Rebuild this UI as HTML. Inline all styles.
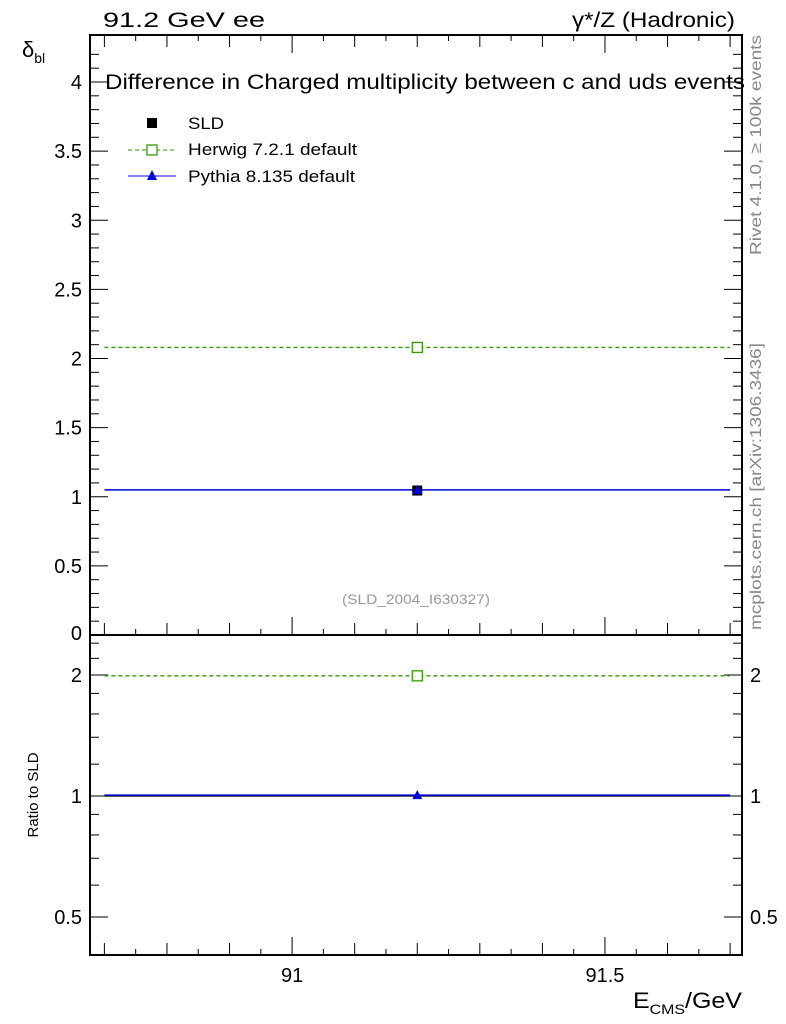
<!DOCTYPE html>
<html><head><meta charset="utf-8"><style>
body{margin:0;background:#fff;}
svg{display:block;font-family:"Liberation Sans",sans-serif;}
</style></head><body>
<svg id="c" width="786" height="1024" viewBox="0 0 786 1024">
<text x="103" y="27" font-size="21" textLength="162" lengthAdjust="spacingAndGlyphs">91.2 GeV ee</text>
<text x="572" y="27" font-size="21" textLength="163" lengthAdjust="spacingAndGlyphs">γ*/Z (Hadronic)</text>
<text x="105" y="89" font-size="21" textLength="640" lengthAdjust="spacingAndGlyphs">Difference in Charged multiplicity between c and uds events</text>
<text x="22" y="57" font-size="22">δ<tspan font-size="14" dy="6">bl</tspan></text>
<text transform="translate(38,795) rotate(-90)" font-size="15" text-anchor="middle">Ratio to SLD</text>
<text x="633" y="1008" font-size="22" textLength="109" lengthAdjust="spacingAndGlyphs">E<tspan font-size="14" dy="6">CMS</tspan><tspan dy="-6">/GeV</tspan></text>
<text transform="translate(761,255) rotate(-90)" font-size="16" fill="#888" textLength="220" lengthAdjust="spacingAndGlyphs">Rivet 4.1.0, ≥ 100k events</text>
<text transform="translate(761,630) rotate(-90)" font-size="16" fill="#888" textLength="287" lengthAdjust="spacingAndGlyphs">mcplots.cern.ch [arXiv:1306.3436]</text>
<text x="342" y="604" font-size="14" fill="#999" textLength="148" lengthAdjust="spacingAndGlyphs">(SLD_2004_I630327)</text>
<g>
<rect x="147" y="118" width="10" height="10" fill="#000"/>
<text x="188" y="129" font-size="17" textLength="36" lengthAdjust="spacingAndGlyphs">SLD</text>
<line x1="128" y1="150" x2="176" y2="150" stroke="#339900" stroke-dasharray="4,3"/>
<rect x="147" y="145" width="10" height="10" fill="#fff" stroke="#339900" stroke-width="1.3"/>
<text x="188" y="155" font-size="17" textLength="169" lengthAdjust="spacingAndGlyphs">Herwig 7.2.1 default</text>
<line x1="128" y1="176" x2="176" y2="176" stroke="#0000dd"/>
<polygon points="152,170 157,180 147,180" fill="#0000dd"/>
<text x="188" y="182" font-size="17" textLength="167" lengthAdjust="spacingAndGlyphs">Pythia 8.135 default</text>
</g>
<g id="plot"></g>
</svg>
<script>
const categories=[91.2];
const binLow=[90.7];
const binHigh=[91.7];
const sldValues=[1.045];
const herwigValues=[2.08];
const pythiaValues=[1.05];
const mainTicks=[0.5,1,1.5,2,2.5,3,3.5,4];
const mainTickLabels=["0.5","1","1.5","2","2.5","3","3.5","4"];
const ratioTicks=[0.5,1,2];
const ratioTickLabels=["0.5","1","2"];
const xTicks=[91,91.5];
const xTickLabels=["91","91.5"];

const L=90,R=742,T=35,MB=635,RB=955;
const xmin=90.677,xmax=91.719;
const X=v=>L+(v-xmin)/(xmax-xmin)*(R-L);
const Y=v=>MB-v*138.25;
const RY=v=>796-Math.log2(v)*121;
const NS='http://www.w3.org/2000/svg';
const g=document.getElementById('plot');
function mk(t,a){const e=document.createElementNS(NS,t);for(const k in a)e.setAttribute(k,a[k]);g.appendChild(e);return e;}

let f=mk('rect',{x:L,y:T,width:R-L,height:MB-T,fill:'none',stroke:'#000','stroke-width':2});


f=mk('rect',{x:L,y:MB,width:R-L,height:RB-MB,fill:'none',stroke:'#000','stroke-width':2});



for(let v=0;v<=4.3;v+=0.1){const y=Y(v);if(y<T)break;const maj=Math.abs(v*2-Math.round(v*2))<1e-6;const len=maj?18:9;
mk('line',{x1:L,y1:y,x2:L+len,y2:y,stroke:'#000'});mk('line',{x1:R,y1:y,x2:R-len,y2:y,stroke:'#000'});}
mainTicks.forEach((v,i)=>{const t=mk('text',{x:L-8,y:Y(v)+7,'font-size':20,'text-anchor':'end'});t.textContent=mainTickLabels[i];

});
let z=mk('text',{x:L-8,y:640,'font-size':20,'text-anchor':'end'});z.textContent='0';



const rt=[0.4,0.5,0.6,0.7,0.8,0.9,1,1.2,1.4,1.6,1.8,2,2.2,2.4];
rt.forEach(v=>{const y=RY(v);if(y<MB||y>RB)return;const maj=ratioTicks.includes(v);const len=maj?18:9;
mk('line',{x1:L,y1:y,x2:L+len,y2:y,stroke:'#000'});mk('line',{x1:R,y1:y,x2:R-len,y2:y,stroke:'#000'});});
ratioTicks.forEach((v,i)=>{let t=mk('text',{x:L-8,y:RY(v)+7,'font-size':20,'text-anchor':'end'});t.textContent=ratioTickLabels[i];


t=mk('text',{x:R+8,y:RY(v)+7,'font-size':20});t.textContent=ratioTickLabels[i];

});

for(let k=0;k<=21;k++){const v=90.7+k*0.05;const x=X(v);if(x>R+1)break;const maj=Math.abs(v*2-Math.round(v*2))<1e-6;const mid=Math.abs(v*10-Math.round(v*10))<1e-6;const len=maj?18:(mid?12:6);
[MB,RB].forEach(b=>mk('line',{x1:x,y1:b,x2:x,y2:b-len,stroke:'#000'}));mk('line',{x1:x,y1:T,x2:x,y2:T+len,stroke:'#000'});}
xTicks.forEach((v,i)=>{const t=mk('text',{x:X(v),y:982,'font-size':20,'text-anchor':'middle'});t.textContent=xTickLabels[i];

});

categories.forEach((c,i)=>{
const x0=X(binLow[i]),x1=X(binHigh[i]),xc=X(c);
let e=mk('line',{x1:x0,y1:Y(herwigValues[i]),x2:x1,y2:Y(herwigValues[i]),stroke:'#339900','stroke-dasharray':'4,3','stroke-width':1.3});


e=mk('line',{x1:x0,y1:Y(pythiaValues[i]),x2:x1,y2:Y(pythiaValues[i]),stroke:'#0000dd','stroke-width':1.5});


e=mk('rect',{x:xc-5,y:Y(sldValues[i])-5,width:10,height:10,fill:'#000'});


e=mk('polygon',{points:`${xc},${Y(pythiaValues[i])-5} ${xc+5},${Y(pythiaValues[i])+4} ${xc-5},${Y(pythiaValues[i])+4}`,fill:'#0000dd'});


e=mk('rect',{x:xc-5,y:Y(herwigValues[i])-5,width:10,height:10,fill:'#fff',stroke:'#339900','stroke-width':1.3});


const hr=herwigValues[i]/sldValues[i],pr=pythiaValues[i]/sldValues[i];
e=mk('line',{x1:x0,y1:RY(1),x2:x1,y2:RY(1),stroke:'#000','stroke-width':1.3});


e=mk('line',{x1:x0,y1:RY(hr),x2:x1,y2:RY(hr),stroke:'#339900','stroke-dasharray':'4,3','stroke-width':1.3});


e=mk('line',{x1:x0,y1:RY(pr),x2:x1,y2:RY(pr),stroke:'#0000dd','stroke-width':1.5});


e=mk('rect',{x:xc-5,y:RY(hr)-5,width:10,height:10,fill:'#fff',stroke:'#339900','stroke-width':1.3});


e=mk('polygon',{points:`${xc},${RY(pr)-5} ${xc+5},${RY(pr)+4} ${xc-5},${RY(pr)+4}`,fill:'#0000dd'});


});
</script>
</body></html>
